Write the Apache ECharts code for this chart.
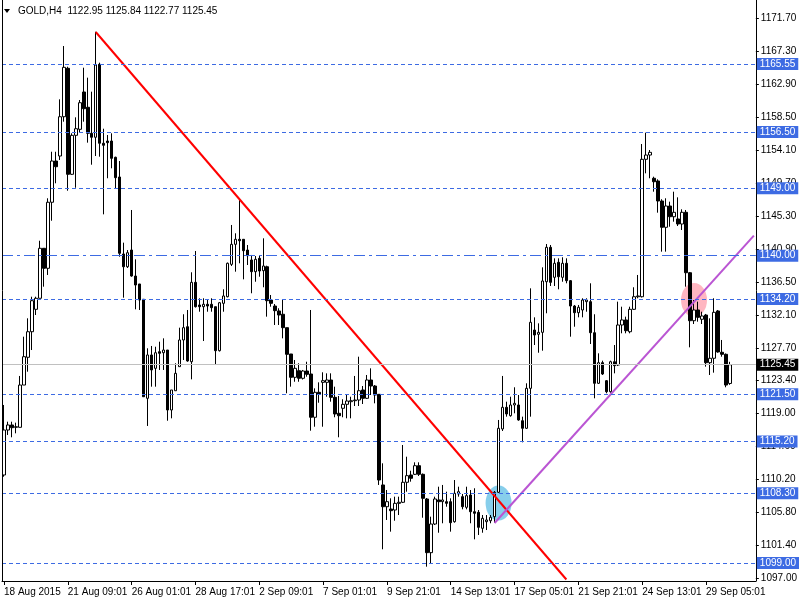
<!DOCTYPE html>
<html><head><meta charset="utf-8">
<script src="https://cdn.jsdelivr.net/npm/echarts@6/dist/echarts.min.js"></script>
<style>html,body{margin:0;padding:0;background:#fff}#c{width:800px;height:600px}</style>
</head><body><div id="c"></div>
<script>
const symbolName = 'GOLD,H4';
const xTickLabels = ['18 Aug 2015','21 Aug 09:01','26 Aug 01:01','28 Aug 17:01','2 Sep 09:01','7 Sep 01:01','9 Sep 21:01','14 Sep 13:01','17 Sep 05:01','21 Sep 21:01','24 Sep 13:01','29 Sep 05:01'];
const yTickLabels = ['1097.00','1101.40','1105.80','1110.20','1114.60','1119.00','1123.40','1127.70','1132.10','1136.50','1140.90','1145.30','1149.70','1154.10','1158.50','1162.90','1167.30','1171.70'];
const opens = [
1110.74,1116.74,1117.41,1117.10,1117.10,1122.74,1126.44,1129.85,1132.84,1134.31,
1140.98,1138.31,1147.12,1152.62,1153.29,1158.53,1164.99,1150.85,1156.05,1156.85,
1161.83,1159.79,1156.32,1155.79,1165.52,1154.99,1155.29,1155.29,1153.12,1150.49,
1140.22,1138.52,1140.75,1137.28,1136.22,1134.18,1120.97,1126.75,1124.97,1127.19,
1127.05,1127.41,1119.41,1121.98,1125.19,1128.75,1130.52,1125.85,1136.44,1133.42,
1133.19,1133.51,1133.51,1133.19,1127.32,1133.64,1134.52,1138.84,1141.51,1142.18,
1142.18,1140.75,1139.42,1137.86,1139.64,1137.99,1138.52,1134.08,1133.28,1132.62,
1132.18,1130.39,1126.88,1123.77,1124.65,1123.64,1124.61,1124.21,1118.44,1121.77,
1123.10,1123.10,1123.41,1121.10,1118.97,1119.64,1120.17,1120.52,1120.65,1120.74,
1122.08,1120.97,1123.41,1122.61,1121.50,1109.41,1106.51,1106.20,1106.07,1106.96,
1107.10,1109.77,1110.74,1110.83,1111.98,1110.83,1107.54,1100.38,1104.20,1107.41,
1107.18,1107.18,1107.18,1104.51,1108.21,1107.85,1106.43,1108.07,1105.84,1105.76,
1103.63,1104.51,1104.64,1105.18,1108.43,1116.88,1119.77,1118.65,1120.08,1120.08,
1117.98,1116.97,1122.30,1130.08,1129.51,1129.77,1136.52,1141.11,1137.11,1139.11,
1137.11,1138.98,1136.66,1133.28,1132.39,1132.75,1133.86,1133.86,1129.72,1122.97,
1125.72,1123.32,1121.85,1125.85,1125.41,1130.75,1131.42,1129.85,1132.84,1134.52,
1134.52,1152.85,1153.42,1150.32,1149.96,1147.29,1143.78,1146.62,1145.19,1144.89,
1144.22,1145.78,1137.72,1131.32,1132.75,1131.51,1132.08,1125.72,1126.31,1132.62,
1127.11,1126.84,1122.95
];
const highs = [
1120.08,1117.85,1117.85,1117.72,1123.95,1129.19,1131.64,1134.52,1134.52,1141.99,
1140.98,1147.65,1153.86,1153.86,1160.85,1167.96,1165.20,1156.32,1158.45,1160.76,
1165.07,1163.74,1161.87,1169.87,1165.74,1156.93,1156.09,1156.32,1153.20,1152.62,
1141.73,1140.75,1146.09,1139.51,1136.22,1134.18,1127.64,1127.95,1127.85,1128.52,
1128.97,1127.41,1122.08,1125.64,1130.39,1132.18,1132.75,1137.78,1140.62,1134.31,
1134.31,1134.08,1134.31,1133.19,1133.82,1135.51,1139.08,1144.09,1142.98,1147.52,
1142.18,1141.42,1140.09,1139.95,1139.95,1142.31,1138.66,1134.75,1133.55,1132.98,
1134.18,1130.39,1126.88,1126.08,1125.64,1124.75,1125.85,1132.75,1122.30,1123.10,
1124.44,1124.30,1124.30,1122.52,1121.28,1120.84,1121.41,1121.18,1123.95,1126.52,
1122.61,1124.08,1124.97,1122.74,1121.50,1112.30,1108.74,1107.63,1107.85,1107.85,
1114.74,1113.18,1111.31,1112.43,1112.43,1110.94,1107.67,1105.18,1107.85,1109.18,
1109.41,1108.51,1107.63,1110.07,1109.18,1108.21,1109.18,1108.74,1108.97,1106.07,
1105.40,1105.40,1105.40,1108.60,1118.08,1123.95,1120.52,1121.18,1122.44,1121.41,
1118.52,1122.97,1135.64,1131.77,1130.97,1138.44,1141.55,1141.42,1139.64,1139.64,
1139.78,1139.64,1136.75,1133.42,1133.42,1134.31,1134.31,1136.31,1132.18,1126.97,
1125.99,1123.41,1125.99,1128.08,1133.86,1133.19,1131.86,1133.19,1135.78,1137.42,
1154.89,1156.40,1154.09,1150.53,1150.18,1147.52,1147.65,1147.20,1148.53,1147.78,
1146.18,1146.09,1137.82,1134.08,1133.86,1132.52,1132.22,1131.64,1134.31,1132.75,
1128.75,1126.95,1125.84
];
const lows = [
1110.51,1116.08,1115.77,1116.30,1117.10,1122.74,1124.52,1127.41,1132.08,1134.31,
1135.86,1137.42,1144.66,1149.65,1152.76,1157.87,1148.66,1150.76,1149.06,1156.40,
1157.87,1155.07,1152.13,1153.29,1153.20,1145.51,1150.32,1151.65,1148.98,1139.86,
1134.39,1138.35,1137.19,1132.84,1132.75,1121.18,1117.28,1122.52,1122.52,1124.75,
1124.75,1117.98,1118.30,1121.98,1125.19,1126.08,1125.85,1123.50,1133.08,1132.52,
1128.61,1132.52,1132.52,1125.41,1127.21,1132.52,1134.44,1138.62,1137.86,1138.98,
1136.84,1138.75,1134.98,1136.52,1137.19,1135.78,1131.86,1133.19,1130.75,1130.75,
1128.97,1121.64,1122.52,1123.18,1123.18,1123.48,1123.85,1116.65,1117.18,1120.38,
1117.18,1121.18,1120.52,1118.44,1115.77,1118.44,1118.30,1118.30,1119.94,1119.94,
1120.21,1120.88,1121.41,1120.30,1109.41,1100.83,1104.74,1103.18,1104.64,1105.40,
1107.00,1108.51,1109.85,1110.74,1110.61,1105.04,1098.51,1098.96,1104.07,1103.04,
1104.30,1106.51,1103.18,1104.38,1107.85,1106.16,1106.16,1104.30,1102.16,1102.74,
1103.04,1103.40,1104.30,1104.34,1108.34,1116.61,1118.52,1118.52,1118.97,1117.98,
1115.10,1116.88,1118.52,1128.08,1127.05,1127.32,1132.31,1135.95,1135.95,1135.51,
1136.52,1136.31,1129.19,1130.52,1131.77,1131.77,1132.52,1128.21,1120.97,1122.88,
1124.08,1121.64,1121.72,1124.30,1125.28,1129.64,1129.64,1129.64,1132.75,1134.31,
1134.42,1150.98,1150.32,1148.53,1145.73,1140.53,1140.53,1143.86,1144.53,1143.95,
1143.42,1135.86,1127.77,1130.88,1131.19,1130.88,1125.19,1124.08,1124.39,1127.05,
1126.52,1122.44,1122.77
];
const closes = [
1116.74,1117.41,1117.05,1117.18,1122.74,1126.52,1129.85,1133.99,1134.31,1140.98,
1138.31,1147.12,1152.62,1151.86,1158.53,1165.12,1150.85,1156.05,1156.93,1160.40,
1159.60,1156.32,1155.79,1165.43,1154.99,1154.72,1155.07,1152.98,1150.40,1140.31,
1138.52,1140.39,1137.28,1136.08,1134.08,1121.18,1126.75,1124.75,1127.05,1126.97,
1127.41,1119.41,1122.08,1124.30,1128.75,1130.39,1125.95,1136.44,1133.19,1133.19,
1133.51,1133.28,1133.06,1127.32,1133.72,1134.62,1138.98,1141.51,1142.18,1141.99,
1140.66,1139.99,1137.86,1139.51,1137.95,1138.62,1133.99,1133.64,1132.66,1132.08,
1130.39,1126.84,1123.77,1124.97,1123.64,1124.61,1124.17,1118.44,1121.77,1121.50,
1123.32,1123.41,1121.10,1118.88,1118.65,1120.17,1120.61,1120.65,1120.74,1121.98,
1120.97,1123.41,1122.61,1121.41,1110.07,1106.51,1107.18,1105.98,1106.96,1107.10,
1109.77,1110.65,1110.30,1111.98,1110.83,1107.63,1100.38,1104.20,1107.54,1107.18,
1107.41,1106.96,1104.38,1108.30,1108.51,1106.51,1107.98,1105.84,1105.63,1103.76,
1104.96,1104.74,1105.10,1108.43,1116.97,1119.77,1118.88,1120.08,1120.30,1118.08,
1116.97,1122.30,1131.11,1129.41,1129.77,1136.62,1141.11,1136.44,1138.98,1137.19,
1138.98,1136.66,1133.28,1132.39,1133.11,1134.08,1134.08,1129.72,1122.97,1125.72,
1124.21,1121.85,1125.85,1125.32,1130.75,1131.42,1129.99,1132.84,1134.52,1134.62,
1152.85,1153.42,1153.78,1149.86,1147.29,1143.78,1146.62,1145.19,1145.78,1144.22,
1145.78,1137.72,1131.32,1132.75,1131.77,1131.95,1125.72,1126.31,1132.44,1127.15,
1126.84,1122.74,1125.45
];
const dashLevels = [1165.55, 1156.50, 1149.00, 1134.20, 1121.50, 1115.20, 1108.30, 1099.00];
const dashDotLevels = [1140.00];
const lastPrice = 1125.45;
const redTrend = [[23, 1169.83], [141, 1096.80]];
const purpleTrend = [[123, 1104.34], [188, 1142.66]];
const blueMark = [[124, 1107.00]];
const pinkMark = [[173, 1134.08]];

const N = 189;
const categories = Array.from({length: N}, (_, i) => String(i));
const kdata = opens.map((o, i) => [o, closes[i], lows[i], highs[i]]);
const yVals = yTickLabels.map(Number);
const FONT = 'Liberation Sans';
const BLUE = '#3d6be3';

const levelLabel = (bg) => ({
  show: true, position: 'end', distance: 1,
  formatter: p => Number(p.value).toFixed(2),
  backgroundColor: bg, color: '#fff', padding: [1, 3, 1, 3],
  fontFamily: FONT, fontSize: 10, lineHeight: 10
});
const markData = [];
dashLevels.forEach(v => markData.push({yAxis: v, lineStyle: {color: BLUE, type: [4, 3], width: 1}, label: levelLabel(BLUE)}));
dashDotLevels.forEach(v => markData.push({yAxis: v, lineStyle: {color: BLUE, type: [11, 4, 3, 4], width: 1}, label: levelLabel(BLUE)}));
markData.push({yAxis: lastPrice, lineStyle: {color: '#c0c0c0', type: 'solid', width: 1}, label: levelLabel('#000')});

const last = kdata.length - 1;
const header = symbolName + '  ' + [opens[last], highs[last], lows[last], closes[last]].map(v => v.toFixed(2)).join(' ');

const chart = echarts.init(document.getElementById('c'), null, {renderer: 'canvas'});
chart.setOption({
  animation: false,
  backgroundColor: '#fff',
  grid: {left: 2, right: 42, top: 0, bottom: 19},
  xAxis: {
    type: 'category', data: categories, boundaryGap: true,
    axisLine: {show: true, lineStyle: {color: '#000', width: 1}},
    axisTick: {show: true, alignWithLabel: true, interval: (i) => i % 16 === 0, length: 4, lineStyle: {color: '#000'}},
    axisLabel: {interval: (i) => i % 16 === 0, formatter: (v, i) => xTickLabels[i / 16] || '', align: 'left', margin: 6,
      color: '#000', fontFamily: FONT, fontSize: 10},
    splitLine: {show: false}
  },
  yAxis: {
    type: 'value', position: 'right', min: 1096.60, max: 1174.10,
    axisLine: {show: true, lineStyle: {color: '#000', width: 1}},
    axisTick: {show: true, length: 3, customValues: yVals, lineStyle: {color: '#000'}},
    axisLabel: {customValues: yVals, formatter: v => v.toFixed(2), margin: 5, color: '#000', fontFamily: FONT, fontSize: 10},
    splitLine: {show: false}
  },
  graphic: [
    {type: 'line', shape: {x1: 2.5, y1: 0, x2: 2.5, y2: 581}, style: {stroke: '#000', lineWidth: 1}, z: 10},
    {type: 'polygon', shape: {points: [[4, 9], [10, 9], [7, 13]]}, style: {fill: '#000'}, z: 10},
    {type: 'text', x: 18, y: 11, style: {text: header, fill: '#000', font: '10px "Liberation Sans"', verticalAlign: 'middle'}, z: 10}
  ],
  series: [
    {type: 'line', data: [], z: 1, silent: true,
      markLine: {silent: true, symbol: ['none', 'none'], animation: false, data: markData}},
    {type: 'scatter', data: blueMark, symbol: 'circle', symbolSize: [26, 35], z: 2, silent: true,
      itemStyle: {color: '#87ceeb', opacity: 1}},
    {type: 'scatter', data: pinkMark, symbol: 'circle', symbolSize: [26, 34], z: 2, silent: true,
      itemStyle: {color: '#ffb6c1', opacity: 1}},
    {type: 'candlestick', data: kdata, z: 3, barWidth: 3,
      itemStyle: {color: '#fff', color0: '#000', borderColor: '#000', borderColor0: '#000', borderColorDoji: '#000', borderWidth: 1}},
    {type: 'line', data: redTrend, symbol: 'none', z: 4, silent: true,
      lineStyle: {color: '#ff0000', width: 2}},
    {type: 'line', data: purpleTrend, symbol: 'none', z: 4, silent: true,
      lineStyle: {color: '#ba55d3', width: 2}}
  ]
});
</script></body></html>
